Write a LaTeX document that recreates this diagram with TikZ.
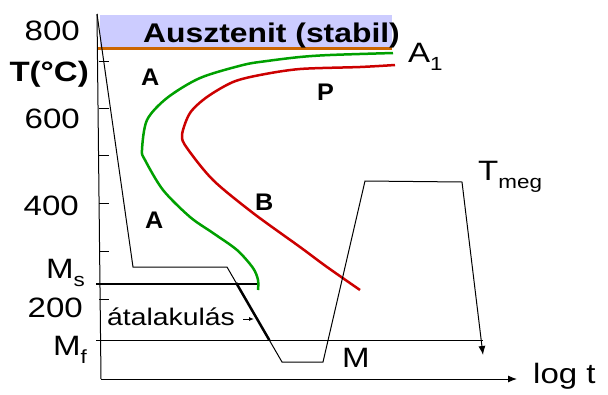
\documentclass[tikz,border=0pt]{standalone}
\usepackage{fontspec}
\setmainfont{Liberation Sans}
\usetikzlibrary{arrows.meta,calc}
\definecolor{band}{HTML}{CCCCFF}
\definecolor{orangeline}{HTML}{CC6600}
\definecolor{tgreen}{HTML}{00A000}
\definecolor{tred}{HTML}{CC0000}
\newcommand{\hs}[1]{\scalebox{1.18}[1]{#1}}
\newcommand{\hb}[1]{\scalebox{1.05}[1]{#1}}
\newcommand{\sbs}[1]{\raisebox{-0.3em}{\fontsize{19}{21}\selectfont #1}}
\tikzset{
  lbl/.style={inner sep=0pt, font=\fontsize{28}{32}\selectfont},
  blbl/.style={inner sep=0pt, font=\fontsize{24}{28}\selectfont\bfseries},
  thinline/.style={line width=1pt, black},
  tick/.style={line width=1pt, black},
}
\begin{document}
\begin{tikzpicture}[x=1pt,y=-1pt]
\useasboundingbox (0,0) rectangle (608,394);
% austenite band
\fill[band] (100,15) rectangle (392,47);
\draw[orangeline, line width=3pt] (97,48) -- (392,48);
\node[lbl, font=\fontsize{27}{30}\selectfont\bfseries, anchor=base west] (aus) at (143,42) {\hs{Ausztenit (stabil)}};
% axes
\coordinate (ytop) at (97,14);
\coordinate (ybot) at (101,379);
\coordinate (xend) at (517,379);
\draw[thinline] (ytop) -- (ybot);
\draw[thinline, -{Latex[length=9pt,width=7pt]}] (ybot) -- (xend);
% ticks
\foreach \yy in {61,108,155,203,251,299} \draw[tick] (99,\yy) -- (109,\yy);
% axis labels
\node[lbl, anchor=base east] (l800) at (80,40) {\hs{800}};
\node[lbl, anchor=base east, font=\fontsize{28}{32}\selectfont\bfseries] (lT) at (89,81) {\hs{T(°C)}};
\node[lbl, anchor=base east] (l600) at (80,128) {\hs{600}};
\node[lbl, anchor=base east] (l400) at (79,215) {\hs{400}};
\node[lbl, anchor=base east] (l200) at (83,317) {\hs{200}};
\node[lbl, anchor=base west] (lMs) at (46,278) {\hs{M\sbs{s}}};
\node[lbl, anchor=base west] (lMf) at (53,355) {\hs{M\sbs{f}}};
\node[lbl, anchor=base west] (lA1) at (408,62) {\hs{A\sbs{1}}};
\node[lbl, anchor=base west] (lTm) at (478,180) {\hs{T\sbs{meg}}};
\node[lbl, anchor=base west] (llog) at (533,383) {\hs{log t}};
\node[lbl, anchor=base west] (lM) at (342,367) {\hs{M}};
% region labels
\node[blbl, anchor=base west] (rA1) at (141,85) {\hb{A}};
\node[blbl, anchor=base west] (rA2) at (145,228) {\hb{A}};
\node[blbl, anchor=base west] (rB) at (255,210) {\hb{B}};
\node[blbl, anchor=base west] (rP) at (317,100) {\hb{P}};
% Ms / Mf lines
\draw[line width=2.5pt] (96,284) -- (258,284);
\draw[thinline] (96,340) -- (483,340);
% TTT curves
\draw[tgreen, line width=2.5pt] plot[smooth, tension=0.5] coordinates {(393,53) (330,55) (300,57) (267,61) (243,65) (200,78) (167,98) (147,120) (142,150) (145,160) (163,190) (190,217) (213,233) (237,250) (253,268) (258,280) (258,290)};
\draw[tred, line width=2.5pt] plot[smooth, tension=0.5] coordinates {(395,65) (360,67) (300,69) (260,75) (233,82) (207,97) (190,113) (182,135) (187,148) (213,180) (253,213) (300,247) (327,267) (360,290)};
% cooling path
\coordinate (c0) at (97,14);
\coordinate (c1) at (133,267);
\coordinate (c2) at (227,267);
\coordinate (c3) at (282,362);
\coordinate (c4) at (323,362);
\coordinate (c5) at (365,181);
\coordinate (c6) at (462,182);
\coordinate (c7) at (483,355);
\draw[thinline, line join=miter, -{Latex[length=9pt,width=7pt]}] (c0) -- (c1) -- (c2) -- (c3) -- (c4) -- (c5) -- (c6) -- (c7);
\coordinate (t1) at ($(c2)!0.168!(c3)$);
\coordinate (t2) at ($(c2)!0.77!(c3)$);
\draw[line width=2.5pt] (t1) -- (t2);
% transformation label
\node[lbl, font=\fontsize{24}{28}\selectfont, anchor=base west] (atal) at (107,325) {\hs{átalakulás}};
\coordinate (aend) at (254,319);
\draw[thinline, -{Latex[length=5pt,width=4pt]}] (243,319) -- (aend);
\end{tikzpicture}
\end{document}
